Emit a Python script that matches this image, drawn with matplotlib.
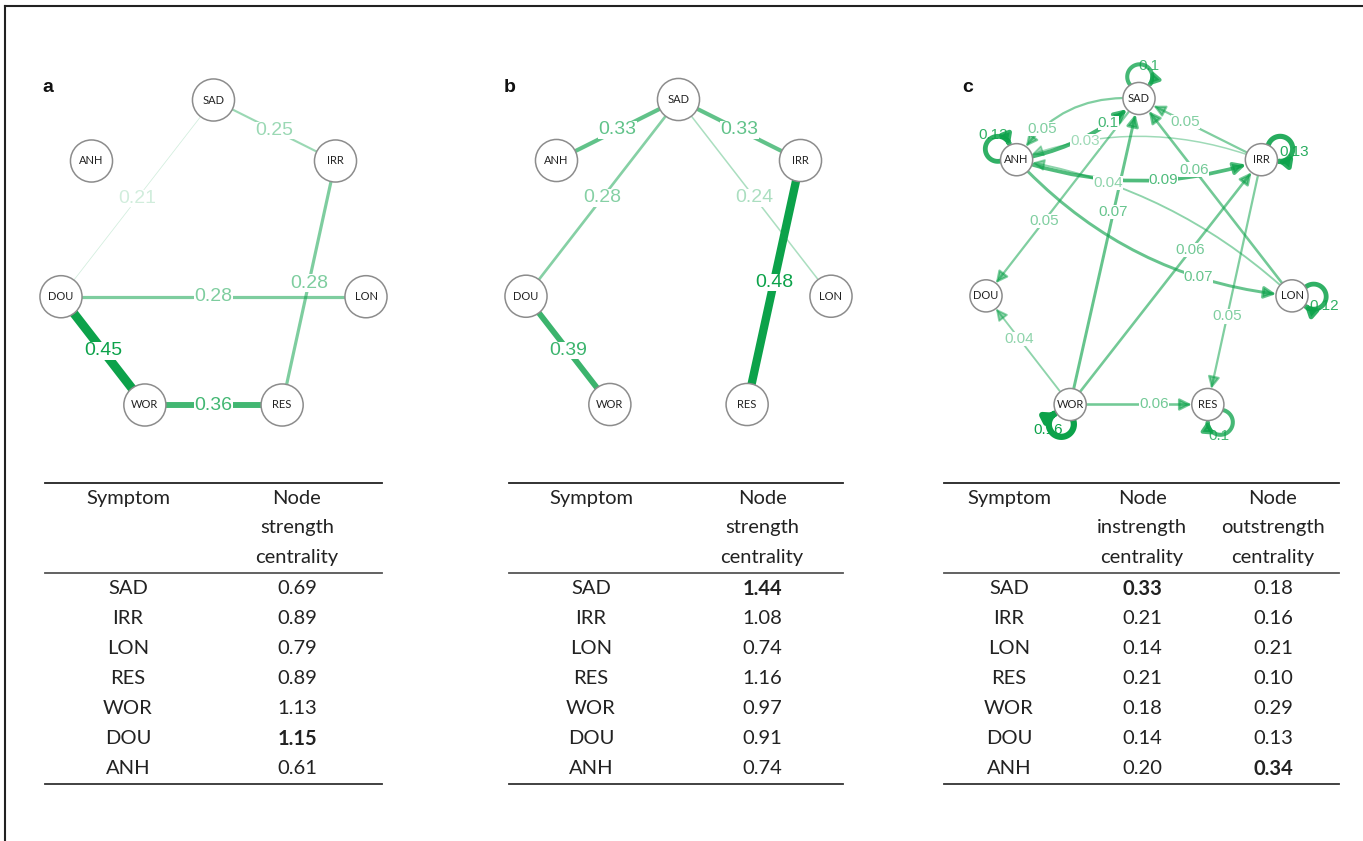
import numpy as np
import matplotlib
matplotlib.use("Agg")
import matplotlib.pyplot as plt
from matplotlib.patches import Circle, FancyArrowPatch
from matplotlib.path import Path
from matplotlib.lines import Line2D
from matplotlib.colors import to_rgba

W, H = 1363, 841

# table data
symptoms = ["SAD", "IRR", "LON", "RES", "WOR", "DOU", "ANH"]
strength_a = [0.69, 0.89, 0.79, 0.89, 1.13, 1.15, 0.61]
strength_b = [1.44, 1.08, 0.74, 1.16, 0.97, 0.91, 0.74]
instrength_c = [0.33, 0.21, 0.14, 0.21, 0.18, 0.14, 0.20]
outstrength_c = [0.18, 0.16, 0.21, 0.10, 0.29, 0.13, 0.34]

# network a (undirected)
a_from = ["SAD", "SAD", "IRR", "DOU", "DOU", "WOR"]
a_to = ["IRR", "DOU", "RES", "LON", "WOR", "RES"]
a_w = [0.25, 0.21, 0.28, 0.28, 0.45, 0.36]

# network b (undirected)
b_from = ["SAD", "SAD", "SAD", "SAD", "IRR", "DOU"]
b_to = ["ANH", "IRR", "DOU", "LON", "RES", "WOR"]
b_w = [0.33, 0.33, 0.28, 0.24, 0.48, 0.39]

# network c (directed)
c_from = ["SAD", "ANH", "IRR", "ANH", "LON", "ANH", "IRR", "LON", "SAD", "WOR", "WOR", "IRR", "WOR", "WOR"]
c_to = ["ANH", "SAD", "ANH", "IRR", "ANH", "LON", "SAD", "SAD", "DOU", "SAD", "IRR", "RES", "DOU", "RES"]
c_w = [0.05, 0.10, 0.03, 0.09, 0.04, 0.07, 0.05, 0.06, 0.05, 0.07, 0.06, 0.05, 0.04, 0.06]
c_curve = [0.3, 0.15, 0.19, 0.17, 0.15, 0.19, 0, 0, 0, 0, 0, 0, 0, 0]
c_label_t = [0.73, 0.72, 0.72, 0.6, 0.7, 0.7, 0.62, 0.64, 0.62, 0.63, 0.63, 0.64, 0.6, 0.61]
loop_nodes = ["SAD", "ANH", "IRR", "LON", "WOR", "RES"]
loop_w = [0.1, 0.12, 0.13, 0.12, 0.16, 0.1]
loop_angle = [88, 150, 30, -2, -114, -55]

# shared circle layout
layout = {"SAD": (0, 1), "ANH": (-0.8, 0.6), "IRR": (0.8, 0.6),
          "DOU": (-1, -0.29), "LON": (1, -0.29), "WOR": (-0.45, -1), "RES": (0.45, -1)}

GREEN = "#0ca24a"


def px(x, y):
    return x / W, 1 - y / H


def fmt(w):
    return ("%.2f" % w).rstrip("0")


def edge_style(w, wmin, wmax, lw_max):
    t = np.clip((w - wmin) / (wmax - wmin), 0, 1)
    alpha = 0.05 + 0.95 * t ** 0.6
    lw = 0.3 + (lw_max - 0.3) * t
    return to_rgba(GREEN, alpha), lw


def make_ax(cx, cy, scale):
    span = 1.35
    x0, y0 = px(cx - span * scale, cy + span * scale)
    ax = fig.add_axes([x0, y0, 2 * span * scale / W, 2 * span * scale / H])
    ax.set_xlim(-span, span)
    ax.set_ylim(-span, span)
    ax.axis("off")
    return ax


def draw_nodes(ax, r):
    for name, (x, y) in layout.items():
        ax.add_patch(Circle((x, y), r, fc="white", ec="#8c8c8c", lw=1.1, zorder=5))
        ax.text(x, y, name, ha="center", va="center", fontsize=8, family="Lato",
                color="#222222", zorder=6)


def draw_undirected(ax, froms, tos, ws, wmin, wmax, lw_max):
    for f, t, w in zip(froms, tos, ws):
        (x1, y1), (x2, y2) = layout[f], layout[t]
        col, lw = edge_style(w, wmin, wmax, lw_max)
        ax.plot([x1, x2], [y1, y2], color=col, lw=lw, solid_capstyle="butt", zorder=1)
        ax.text((x1 + x2) / 2, (y1 + y2) / 2, fmt(w), ha="center", va="center",
                fontsize=14, family="Liberation Sans", color=col, zorder=2,
                bbox=dict(fc="white", ec="none", pad=0.2))


fig = plt.figure(figsize=(W / 100, H / 100), dpi=100)

# outer frame (top and left)
fig.add_artist(Line2D([5 / W, 1], [1 - 6 / H, 1 - 6 / H], color="#222222", lw=1.5))
fig.add_artist(Line2D([5 / W, 5 / W], [1 - 6 / H, 0], color="#222222", lw=1.5))

# panel a
ax_a = make_ax(213.5, 252.5, 152.5)
draw_undirected(ax_a, a_from, a_to, a_w, 0.2, 0.45, 6.5)
draw_nodes(ax_a, 0.138)

# panel b
ax_b = make_ax(678.5, 252, 152.5)
draw_undirected(ax_b, b_from, b_to, b_w, 0.2, 0.48, 6.0)
draw_nodes(ax_b, 0.138)

# panel c
ax_c = make_ax(1139, 251.5, 153)
rc = 0.105
shrink = 16 * 0.72
for f, t, w, rad, s in zip(c_from, c_to, c_w, c_curve, c_label_t):
    p1, p2 = np.array(layout[f], float), np.array(layout[t], float)
    col, lw = edge_style(w, 0.0, 0.16, 4.5)
    arr = FancyArrowPatch(p1, p2, connectionstyle=f"arc3,rad={rad}",
                          arrowstyle="-|>,head_length=0.7,head_width=0.35",
                          mutation_scale=10, lw=lw, color=col,
                          shrinkA=shrink, shrinkB=shrink, zorder=1)
    ax_c.add_patch(arr)
    d = p2 - p1
    ctrl = (p1 + p2) / 2 + rad * np.array([d[1], -d[0]])
    lp = (1 - s) ** 2 * p1 + 2 * (1 - s) * s * ctrl + s ** 2 * p2
    ax_c.text(lp[0], lp[1], fmt(w), ha="center", va="center", fontsize=11,
              family="Liberation Sans", color=col, zorder=2,
              bbox=dict(fc="white", ec="none", pad=0.1))

for n, w, ang in zip(loop_nodes, loop_w, loop_angle):
    c = np.array(layout[n], float)
    th = np.deg2rad(ang)
    u = np.array([np.cos(th), np.sin(th)])
    dist, rl = 1.35 * rc, 0.78 * rc
    phi = np.arccos((dist ** 2 + rl ** 2 - rc ** 2) / (2 * dist * rl))
    lc = c + u * dist
    a0 = th + np.pi - phi
    angs = np.linspace(a0, a0 - (2 * np.pi - 2 * phi), 40)
    verts = np.column_stack([lc[0] + rl * np.cos(angs), lc[1] + rl * np.sin(angs)])
    col, lw = edge_style(w, 0.0, 0.16, 4.5)
    loop = FancyArrowPatch(path=Path(verts), arrowstyle="-|>,head_length=0.6,head_width=0.35",
                           mutation_scale=9, lw=lw, color=col, zorder=1)
    ax_c.add_patch(loop)
    la = th - np.deg2rad(16)
    lpos = c + 2.1 * rc * np.array([np.cos(la), np.sin(la)])
    ax_c.text(lpos[0], lpos[1], fmt(w), ha="center", va="center", fontsize=11,
              family="Liberation Sans", color=col, zorder=2)

draw_nodes(ax_c, rc)

# panel letters
for letter, x in zip(["a", "b", "c"], [48, 510, 968]):
    fig.text(*px(x, 87), letter, ha="center", va="center", fontsize=14,
             fontweight="bold", family="Liberation Sans", color="#111111")


# tables
def draw_table(x_left, x_right, col_x, headers, columns):
    for yy, c, lw in [(483, "#222222", 1.3), (573, "#555555", 1.3), (784, "#333333", 1.3)]:
        fig.add_artist(Line2D([x_left / W, x_right / W], [1 - yy / H, 1 - yy / H], color=c, lw=lw))
    for x, head in zip(col_x, headers):
        for k, line in enumerate(head):
            fig.text(*px(x, 498 + 30 * k), line, ha="center", va="center",
                     fontsize=14.5, family="Lato", color="#222222")
    for j, (x, col) in enumerate(zip(col_x, columns)):
        top = None
        if j > 0:
            top = int(np.argmax(col))
        for i, v in enumerate(col):
            s = v if j == 0 else "%.2f" % v
            fig.text(*px(x, 589 + 30 * i), s, ha="center", va="center", fontsize=14.5,
                     family="Lato", color="#222222",
                     fontweight="bold" if i == top else "normal")


draw_table(45, 382, [128, 297], [["Symptom"], ["Node", "strength", "centrality"]],
           [symptoms, strength_a])
draw_table(509, 843, [591, 762], [["Symptom"], ["Node", "strength", "centrality"]],
           [symptoms, strength_b])
draw_table(944, 1339, [1009, 1142, 1273],
           [["Symptom"], ["Node", "instrength", "centrality"], ["Node", "outstrength", "centrality"]],
           [symptoms, instrength_c, outstrength_c])

fig.savefig("out.png", dpi=100)
